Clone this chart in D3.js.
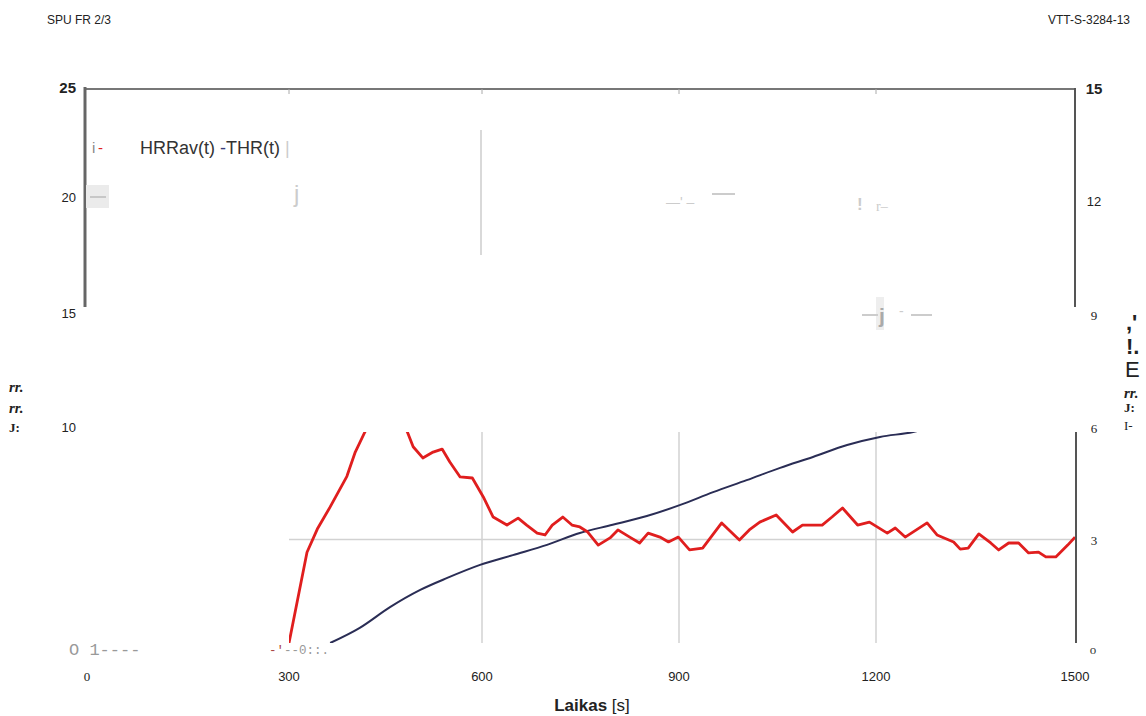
<!DOCTYPE html>
<html>
<head>
<meta charset="utf-8">
<script src="https://cdn.jsdelivr.net/npm/d3@7"></script>
<style>
  html, body { margin: 0; padding: 0; background: #fff; }
  svg { display: block; font-family: "Liberation Sans", Arial, sans-serif; }
</style>
</head>
<body>
<div id="chart"></div>
<script>
// HRRav(t), kW (left axis)
const hrrTime = [300, 328, 344, 364, 390, 403, 418, 435, 450, 466, 484, 493, 508, 524, 538, 550, 566, 585,
  602, 617, 638, 655, 668, 684, 696, 707, 723, 737, 749, 761, 777, 795, 807, 825, 840, 853, 871, 884, 899,
  916, 936, 965, 992, 1007, 1023, 1048, 1073, 1088, 1118, 1133, 1149, 1172, 1190, 1217, 1229, 1244, 1277,
  1292, 1317, 1327, 1339, 1355, 1373, 1385, 1400, 1415, 1430, 1445, 1456, 1471, 1489, 1500];
const hrrValue = [0, 4.3, 5.4, 6.45, 7.9, 9.05, 10.0, 11.0, 11.5, 11.0, 10.0, 9.3, 8.77, 9.05, 9.19, 8.58, 7.87, 7.82,
  6.92, 5.97, 5.59, 5.92, 5.59, 5.21, 5.12, 5.59, 5.97, 5.59, 5.5, 5.26, 4.64, 4.98, 5.36, 5.02, 4.74, 5.21, 5.02, 4.79, 5.02,
  4.41, 4.5, 5.69, 4.88, 5.36, 5.73, 6.07, 5.26, 5.59, 5.59, 5.97, 6.4, 5.59, 5.73, 5.21, 5.45, 5.02, 5.69,
  5.12, 4.79, 4.45, 4.5, 5.17, 4.74, 4.41, 4.74, 4.74, 4.27, 4.31, 4.08, 4.08, 4.64, 5.02];

// THR(t), MJ (right axis)
const thrTime = [364, 410, 457, 504, 546, 597, 647, 699, 749, 799, 851, 901, 952, 1003, 1054, 1104, 1156, 1206, 1256, 1350, 1500];
const thrValue = [0, 0.43, 1.02, 1.51, 1.85, 2.22, 2.5, 2.79, 3.13, 3.36, 3.61, 3.92, 4.29, 4.63, 4.98, 5.29, 5.63, 5.86, 6.0, 6.6, 7.5];

const xTicks = [0, 300, 600, 900, 1200, 1500];
const leftTicks = [25, 20, 15, 10];
const rightTicks = [15, 12, 9, 6, 3];

const W = 1146, H = 716;
const svg = d3.select("#chart").append("svg").attr("width", W).attr("height", H);

// scanned axis is not quite linear, so piecewise scales
const x = d3.scaleLinear().domain(xTicks).range([87, 289, 482, 679, 876, 1075]);
const yL = d3.scaleLinear().domain([0, 10]).range([643, 432]);
const yR = d3.scaleLinear().domain([0, 6]).range([643, 432]);
const yLabL = d3.scaleLinear().domain([10, 15, 20, 25]).range([427, 313, 197, 88]);
const yLabR = d3.scaleLinear().domain([0, 3, 6, 9, 12, 15]).range([650, 540, 428, 315, 201, 89]);

// header
svg.append("text").attr("x", 47).attr("y", 24).attr("font-size", 12).attr("fill", "#222").text("SPU FR 2/3");
svg.append("text").attr("x", 1130).attr("y", 24).attr("font-size", 12).attr("fill", "#222")
  .attr("text-anchor", "end").text("VTT-S-3284-13");

// upper frame fragment
svg.append("line").attr("x1", 85).attr("x2", 1075).attr("y1", 89).attr("y2", 89)
  .attr("stroke", "#777").attr("stroke-width", 2);
svg.append("line").attr("x1", 85).attr("x2", 85).attr("y1", 87).attr("y2", 307)
  .attr("stroke", "#666").attr("stroke-width", 3);
svg.append("line").attr("x1", 1075).attr("x2", 1075).attr("y1", 88).attr("y2", 307)
  .attr("stroke", "#555").attr("stroke-width", 2);
svg.selectAll("line.toptick").data(xTicks.slice(1, 5)).enter().append("line")
  .attr("class", "toptick")
  .attr("x1", d => x(d)).attr("x2", d => x(d)).attr("y1", 89).attr("y2", 94)
  .attr("stroke", "#aaa").attr("stroke-width", 1);
svg.append("line").attr("x1", x(600) - 1).attr("x2", x(600) - 1).attr("y1", 130).attr("y2", 255)
  .attr("stroke", "#ccc").attr("stroke-width", 1.5);

// legend (scan remains)
svg.append("text").attr("x", 92).attr("y", 153).attr("font-size", 15).attr("fill", "#888").text("i");
svg.append("text").attr("x", 98).attr("y", 153).attr("font-size", 15).attr("fill", "#e02020").text("-");
const leg = svg.append("text").attr("x", 140).attr("y", 154).attr("font-size", 18).attr("fill", "#333");
leg.append("tspan").text("HRRav(t) ");
leg.append("tspan").attr("fill", "#3a3f7a").text("-");
leg.append("tspan").text("THR(t) ");
leg.append("tspan").attr("fill", "#ccc").text("|");
svg.append("rect").attr("x", 86).attr("y", 185).attr("width", 23).attr("height", 23).attr("fill", "#ebebeb");
svg.append("line").attr("x1", 90).attr("x2", 106).attr("y1", 197).attr("y2", 197).attr("stroke", "#bbb").attr("stroke-width", 1.5);
svg.append("text").attr("x", 294).attr("y", 202).attr("font-size", 24).attr("fill", "#ccc").text("j");

// faint fragments
svg.append("rect").attr("x", 876).attr("y", 297).attr("width", 8).attr("height", 33).attr("fill", "#eee");
const faint = svg.append("g").attr("fill", "#ccc").attr("font-size", 14);
faint.append("text").attr("x", 666).attr("y", 207).text("—' –");
faint.append("line").attr("x1", 712).attr("x2", 735).attr("y1", 194).attr("y2", 194).attr("stroke", "#ccc").attr("stroke-width", 2);
faint.append("text").attr("x", 857).attr("y", 210).attr("font-size", 17).attr("font-weight", "bold").text("! ");
faint.append("text").attr("x", 876).attr("y", 211).attr("font-family", "Liberation Serif").text("r–");
faint.append("line").attr("x1", 862).attr("x2", 878).attr("y1", 315).attr("y2", 315).attr("stroke", "#ccc").attr("stroke-width", 2);
faint.append("text").attr("x", 879).attr("y", 323).attr("font-size", 21).attr("font-weight", "bold").attr("fill", "#aaa").text("j");
faint.append("text").attr("x", 899).attr("y", 316).text("-");
faint.append("line").attr("x1", 911).attr("x2", 932).attr("y1", 315).attr("y2", 315).attr("stroke", "#ccc").attr("stroke-width", 2);

// lower plot fragment
const plotL = x(300), plotR = x(1500), plotT = yL(10), plotB = yL(0);
svg.append("clipPath").attr("id", "clip").append("rect")
  .attr("x", plotL).attr("y", plotT).attr("width", plotR - plotL).attr("height", plotB - plotT);

const grid = svg.append("g").attr("stroke", "#d2d2d2").attr("stroke-width", 1.5);
grid.selectAll("line.v").data(xTicks.slice(2, 5)).enter().append("line")
  .attr("x1", d => x(d)).attr("x2", d => x(d)).attr("y1", plotT).attr("y2", plotB);
grid.append("line").attr("x1", plotL).attr("x2", plotR).attr("y1", yL(5) + 2).attr("y2", yL(5) + 2);

svg.append("line").attr("x1", plotR + 1).attr("x2", plotR + 1).attr("y1", plotT).attr("y2", plotB)
  .attr("stroke", "#555").attr("stroke-width", 2);

const lines = svg.append("g").attr("clip-path", "url(#clip)").attr("fill", "none");
const thrLine = d3.line().x(d => x(d[0])).y(d => yR(d[1])).curve(d3.curveMonotoneX);
const hrrLine = d3.line().x(d => x(d[0])).y(d => yL(d[1]));
lines.append("path").datum(d3.zip(thrTime, thrValue)).attr("d", thrLine)
  .attr("stroke", "#2a2d55").attr("stroke-width", 2);
lines.append("path").datum(d3.zip(hrrTime, hrrValue)).attr("d", hrrLine)
  .attr("stroke", "#e01e1e").attr("stroke-width", 2.8).attr("stroke-linejoin", "round");

// left tick labels
svg.selectAll("text.yl").data(leftTicks).enter().append("text")
  .attr("x", 76).attr("y", d => yLabL(d) + 5).attr("text-anchor", "end")
  .attr("font-size", d => d === 25 ? 15 : 13)
  .attr("font-weight", d => d === 25 ? "bold" : "normal")
  .attr("fill", "#222").text(d => d);
svg.append("text").attr("x", 69).attr("y", 655).attr("font-family", "Liberation Mono, monospace")
  .attr("font-size", 17).attr("fill", "#999").text("O 1----");
const frag = svg.append("text").attr("x", 269).attr("y", 654).attr("font-family", "Liberation Mono, monospace")
  .attr("font-size", 12.5);
frag.append("tspan").attr("fill", "#a44").text("-'");
frag.append("tspan").attr("fill", "#999").text("--0::.");

// right tick labels
svg.selectAll("text.yr").data(rightTicks).enter().append("text")
  .attr("x", 1094).attr("y", d => yLabR(d) + 5).attr("text-anchor", "middle")
  .attr("font-family", d => d >= 12 ? "Liberation Sans, Arial" : "Liberation Serif, serif")
  .attr("font-size", d => d === 15 ? 15 : 13)
  .attr("font-weight", d => d === 15 ? "bold" : "normal")
  .attr("fill", "#222").text(d => d);
svg.append("text").attr("x", 1093).attr("y", yLabR(0) + 4).attr("text-anchor", "middle")
  .attr("font-family", "Liberation Serif, serif").attr("font-size", 13).attr("fill", "#333").text("o");

// garbled axis titles
const lt = svg.append("g").attr("font-family", "Liberation Serif, serif").attr("fill", "#222");
lt.append("text").attr("x", 9).attr("y", 392).attr("font-size", 15).attr("font-style", "italic").attr("font-weight", "bold").text("rr.");
lt.append("text").attr("x", 9).attr("y", 413).attr("font-size", 15).attr("font-style", "italic").attr("font-weight", "bold").text("rr.");
lt.append("text").attr("x", 9).attr("y", 432).attr("font-size", 13).attr("font-weight", "bold").text("J:");

const rt = svg.append("g").attr("fill", "#222");
rt.append("text").attr("x", 1126).attr("y", 330).attr("font-size", 22).attr("font-weight", "bold").text(",'");
rt.append("text").attr("x", 1126).attr("y", 354).attr("font-size", 22).attr("font-weight", "bold").text("!.");
rt.append("text").attr("x", 1125).attr("y", 377).attr("font-size", 22).text("E");
rt.append("text").attr("x", 1124).attr("y", 398).attr("font-size", 15).attr("font-family", "Liberation Serif, serif")
  .attr("font-style", "italic").attr("font-weight", "bold").text("rr.");
rt.append("text").attr("x", 1124).attr("y", 412).attr("font-size", 13).attr("font-family", "Liberation Serif, serif")
  .attr("font-weight", "bold").text("J:");
rt.append("text").attr("x", 1124).attr("y", 430).attr("font-size", 13).attr("font-family", "Liberation Serif, serif").text("I-");

// x tick labels
svg.selectAll("text.xt").data(xTicks).enter().append("text")
  .attr("x", d => x(d)).attr("y", 681).attr("text-anchor", "middle")
  .attr("font-family", d => d === 0 ? "Liberation Serif, serif" : "Liberation Sans, Arial")
  .attr("font-size", 13).attr("fill", "#222").text(d => d);

const xt = svg.append("text").attr("x", 592).attr("y", 711).attr("text-anchor", "middle").attr("font-size", 17).attr("fill", "#222");
xt.append("tspan").attr("font-weight", "bold").text("Laikas");
xt.append("tspan").text(" [s]");
</script>
</body>
</html>
